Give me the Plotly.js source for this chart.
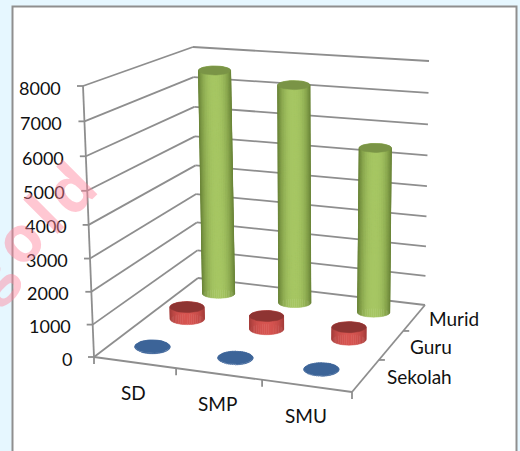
<!DOCTYPE html>
<html><head><meta charset="utf-8">
<script src="https://cdn.plot.ly/plotly-3.0.1.min.js"></script>
<style>html,body{margin:0;padding:0;background:#E6F7FF}</style>
</head><body><div id="chart" style="width:520px;height:451px"></div>
<script>
const categories = ['SD','SMP','SMU'];
const seriesNames = ['Sekolah','Guru','Murid'];
const sekolah = [25,20,15];
const guru = [400,430,400];
const murid = [7500,7200,5400];
const zTicks = [0,1000,2000,3000,4000,5000,6000,7000,8000];
const zMax = 8000;
const FONT = 'Lato, "Open Sans", sans-serif';
const GRID = '#8e8e8e';

// view of the 3-D box on the page: where its eight corners fall
const view = {
  c000:[94,357], c100:[352,392], c010:[198,278], c110:[425,305],
  c001:[83,86],  c101:[357,104], c011:[193,47],  c111:[429,61]
};
// perspective foreshortening along each axis
const warpU = u => u-0.068*u*(1-u);
const warpV = v => v+0.158*v*(1-v);
const warpW = w => w-0.05*w*(1-w);
function lerp(a,b,t){return [a[0]+(b[0]-a[0])*t,a[1]+(b[1]-a[1])*t]}
function project(cat,row,val){
  const u=warpU(cat/3),v=warpV(row/3),w=warpW(val/zMax);
  const bot=lerp(lerp(view.c000,view.c100,u),lerp(view.c010,view.c110,u),v);
  const top=lerp(lerp(view.c001,view.c101,u),lerp(view.c011,view.c111,u),v);
  return lerp(bot,top,w);
}
function hex(c){return '#'+c.map(v=>Math.round(v).toString(16).padStart(2,'0')).join('')}
function mix(a,b,t){return a.map((v,i)=>v+(b[i]-v)*t)}

const traces=[];
function line(p,q){
  traces.push({type:'scatter',mode:'lines',x:[p[0],q[0]],y:[p[1],q[1]],line:{color:GRID,width:1.8},hoverinfo:'skip'});
}
zTicks.forEach(z=>{
  line(project(0,0,z),project(0,3,z));
  line(project(0,3,z),project(3,3,z));
  const p=project(0,0,z); line([p[0]-6,p[1]],p);
});
line(project(0,0,0),project(0,0,zMax));
line(project(0,0,0),project(3,0,0));
line(project(3,0,0),project(3,3,0));
[0,1,2,3].forEach(i=>{const p=project(i,0,0); line(p,[p[0],p[1]+7]);});
[1,2].forEach(i=>{const p=project(3,i,0); line(p,[p[0]+6,p[1]]);});

function poly(xs,ys,color){
  traces.push({type:'scatter',mode:'lines',x:xs,y:ys,fill:'toself',fillcolor:color,line:{color:color,width:0.5},hoverinfo:'skip'});
}
function cylinder(cat,row,val,pal){
  const n=48,shift=cat===0?-0.01:0;
  const bottom=project(cat+.5+shift,row+.5,0),top=project(cat+.5+shift,row+.5,val);
  const pt=(c,a)=>[c[0]+pal.rx*Math.cos(a),c[1]+pal.ry*Math.sin(a)];
  const strips=[];
  for(let s=0;s<n;s++){const a=2*Math.PI*s/n,b=2*Math.PI*(s+1)/n;strips.push([a,b,Math.sin((a+b)/2)]);}
  strips.sort((p,q)=>p[2]-q[2]);
  strips.forEach(([a,b])=>{
    const p1=pt(bottom,a),p2=pt(bottom,b),p3=pt(top,b),p4=pt(top,a);
    const c=hex(mix(pal.mid,pal.edge,Math.pow(Math.abs(Math.cos((a+b)/2)),2.4)));
    poly([p1[0],p2[0],p3[0],p4[0],p1[0]],[p1[1],p2[1],p3[1],p4[1],p1[1]],c);
  });
  const xs=[],ys=[];
  for(let s=0;s<=n;s++){const p=pt(top,2*Math.PI*s/n);xs.push(p[0]);ys.push(p[1]);}
  poly(xs,ys,hex(pal.top));
}
const palettes=[
  {mid:[62,101,154],edge:[62,101,154],top:[60,100,152],rx:17.5,ry:6.5},
  {mid:[214,84,80],edge:[164,60,58],top:[142,52,50],rx:17,ry:5.5},
  {mid:[166,198,99],edge:[106,132,56],top:[122,148,70],rx:16,ry:4.5}];
const rows=[sekolah,guru,murid];
for(let r=2;r>=0;r--) for(let c=0;c<3;c++) cylinder(c,r,rows[r][c],palettes[r]);

const tick={family:FONT,size:18,color:'#111'};
const lab={family:FONT,size:19,color:'#111'};
const ann=[];
zTicks.forEach(z=>{const p=project(0,0,z);
  ann.push({xref:'x',yref:'y',x:p[0]-20,y:p[1]+1.5,text:String(z),showarrow:false,font:tick,xanchor:'right',yanchor:'middle'});});
categories.forEach((t,i)=>{const p=project(i+.5,0,0);
  ann.push({xref:'x',yref:'y',x:p[0]-1,y:p[1]+30,text:t,showarrow:false,font:lab,xanchor:'center',yanchor:'middle'});});
seriesNames.forEach((t,i)=>{const p=project(3,i+.5,0);
  ann.push({xref:'x',yref:'y',x:p[0]+19-[0,2,6][i],y:p[1]+1,text:t,showarrow:false,font:lab,xanchor:'left',yanchor:'middle'});});
ann.push({xref:'x',yref:'y',x:28,y:228,text:'<b>g\u200ao\u200al\u200ad</b>',textangle:-45,showarrow:false,font:{family:'Open Sans',size:64,color:'rgba(255,130,155,0.45)'}});

const layout={width:520,height:451,margin:{l:0,r:0,t:0,b:0},paper_bgcolor:'#E6F7FF',plot_bgcolor:'rgba(0,0,0,0)',showlegend:false,
  xaxis:{range:[0,520],visible:false,fixedrange:true},yaxis:{range:[451,0],visible:false,fixedrange:true},
  shapes:[{type:'rect',layer:'below',xref:'x',yref:'y',x0:12.5,x1:516.5,y0:6.5,y1:470,fillcolor:'#fff',line:{color:'#8f8f8f',width:2}}],
  annotations:ann};
Plotly.newPlot('chart',traces,layout,{displayModeBar:false,staticPlot:true});
</script></body></html>
